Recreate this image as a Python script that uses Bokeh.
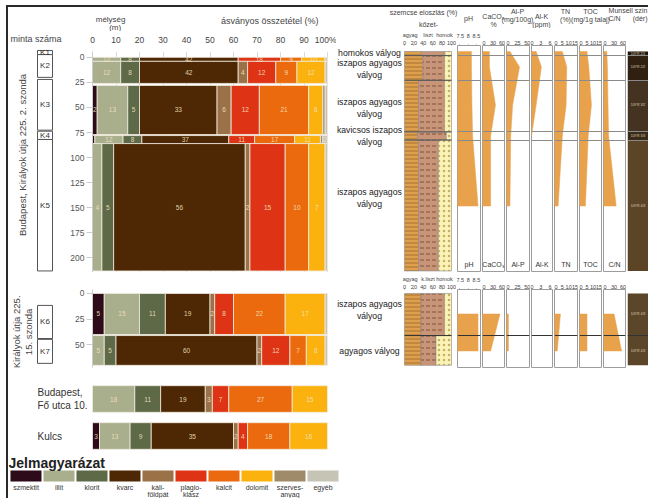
import math
from bokeh.plotting import figure
from bokeh.layouts import row, column
from bokeh.models import Range1d, FactorRange, FixedTicker, LinearAxis, ColumnDataSource, Spacer
from bokeh.core.properties import value
from bokeh.embed import file_html
from bokeh.resources import INLINE

FONT = "Liberation Sans"

# ---------------- data ----------------
MINERALS = ["szmektit", "illit", "klorit", "kvarc", "káliföldpát", "plagioklász",
            "kalcit", "dolomit", "szervesanyag", "egyéb"]
LEGEND_LABELS = ["szmektit", "illit", "klorit", "kvarc", "káli-\nföldpát", "plagio-\nklász",
                 "kalcit", "dolomit", "szerves-\nanyag", "egyéb"]
MINERAL_COLORS = ["#2d0b18", "#a9ae8c", "#5d6947", "#4e2804", "#9b7147", "#de3415",
                  "#ec6a0e", "#fbb20f", "#9f8a69", "#c6c5b5"]

# Budapest, Királyok útja 225. 2. szonda
S2_SAMPLES = ["K1", "K2", "K3", "K4", "K5"]
S2_TOP = [0, 4, 28, 78, 86]
S2_BOTTOM = [4, 26, 77, 86, 213]
S2_MID = [2, 15, 52, 82, 150]
K1 = [0, 12, 8, 42, 0, 18, 9, 10, 0, 1]
K2 = [0, 12, 8, 42, 4, 12, 9, 12, 0, 1]
K3 = [2, 13, 5, 33, 6, 12, 21, 6, 1, 1]
K4 = [1, 12, 8, 37, 0, 11, 17, 11, 1, 2]
K5 = [0, 4, 5, 56, 2, 15, 10, 7, 0, 1]
S2_SOIL = ["homokos vályog", "iszapos agyagos\nvályog", "iszapos agyagos\nvályog",
           "kavicsos iszapos\nvályog", "iszapos agyagos\nvályog"]
S2_SOIL_DEPTH = [1, 17, 55, 82, 142]
DEPTH_TICKS_S2 = [0, 25, 50, 75, 100, 125, 150, 175, 200]

# Királyok útja 225. 15. szonda
S15_SAMPLES = ["K6", "K7"]
S15_TOP = [0, 41]
S15_BOTTOM = [40, 70]
S15_MID = [20, 56]
K6 = [5, 15, 11, 19, 2, 8, 22, 17, 0, 1]
K7 = [0, 5, 5, 60, 2, 12, 7, 8, 0, 1]
S15_SOIL = ["iszapos agyagos\nvályog", "agyagos vályog"]
S15_SOIL_DEPTH = [16, 56]
DEPTH_TICKS_S15 = [0, 25, 50]

# other sites
SITES = ["Budapest", "Kulcs"]
SITE_LABELS = ["Budapest,\nFő utca 10.", "Kulcs"]
BUDAPEST_FO = [0, 18, 11, 19, 3, 7, 27, 15, 0, 0]
KULCS = [3, 13, 9, 35, 2, 4, 18, 16, 0, 0]

PCT_TICKS = [0, 10, 20, 30, 40, 50, 60, 70, 80, 90, 100]

# grain size distribution (%)
GRAIN_TICKS = [0, 20, 40, 60, 80, 100]
GRAIN_CLASS_POS = [12, 50, 85]
GRAIN_CLASSES_S2 = ["agyag", "liszt", "homok"]
GRAIN_CLASSES_S15 = ["agyag", "k.liszt", "homok"]
S2_CLAY = [36, 39, 30, 28, 30]
S2_SILT = [50, 46, 55, 61, 42]
S15_CLAY = [35, 35]
S15_SILT = [50, 32]

# soil chemistry profiles
PH_S2 = [8.2, 8.2, 8.23, 8.27, 8.6]
PH_S15 = [8.6, 8.6]
CACO3_S2 = [18, 18, 38, 22, 22]
CACO3_S15 = [53, 22]
ALP_S2 = [5, 30, 12, 7, 5]
ALP_S15 = [1, 1]
ALK_S2 = [1.5, 3.2, 1.5, 0, 0]
ALK_S15 = [0, 0]
TN_S2 = [5, 8.5, 8, 5, 1.7]
TN_S15 = [3.5, 1]
TOC_S2 = [5, 6.5, 8.7, 6, 3.7]
TOC_S15 = [5, 5]
CN_S2 = [6, 8, 10, 12, 37]
CN_S15 = [30, 55]

MUNSELL_S2 = ["10YR 2/1", "10YR 2/2", "10YR 3/2", "10YR 3/3", "10YR 4/3"]
MUNSELL_S2_COLORS = ["#21150b", "#2f2012", "#433320", "#3a2b19", "#5c4527"]
MUNSELL_S15 = ["10YR 4/3", "10YR 4/3"]
MUNSELL_S15_COLORS = ["#5b462a", "#5b462a"]

# column specs: name, fig width, x range, ticks, values (2. szonda), values (15. szonda)
COLUMNS = [
    ("pH", 25, 7.35, 8.75, [7.5, 8, 8.5], PH_S2, PH_S15),
    ("CaCO₃", 24, -5, 68, [0, 30, 60], CACO3_S2, CACO3_S15),
    ("Al-P", 25, -4, 56, [0, 25, 50], ALP_S2, ALP_S15),
    ("Al-K", 23, 0, 6.8, [0, 3, 6], ALK_S2, ALK_S15),
    ("TN", 25, -1.2, 17, [0, 5, 10, 15], TN_S2, TN_S15),
    ("TOC", 24, -1.2, 17, [0, 5, 10, 15], TOC_S2, TOC_S15),
    ("C/N", 24, -5, 68, [0, 30, 60], CN_S2, CN_S15),
]

HDR_TEXT = ["szemcse eloszlás (%)", "kőzet-", "pH", "CaCO₃\n%", "Al-P\n(mg/100g)", "Al-K\n(ppm)",
            "TN\n(%)", "TOC\n(mg/1g talaj)", "C/N", "Munsell szín\n(dér)"]
HDR_X = [423, 428, 468, 493, 517, 541, 565, 590, 614, 647]
HDR_Y = [12, 24, 18, 20, 15, 20, 15, 15, 18, 14]

PROFILE_COLOR = "#e9a24c"

# ---------------- helpers ----------------
def base_fig(width, height, x_range, y_range, top=0, bottom=0, left=0, right=0, xloc=None, yloc=None):
    p = figure(width=width, height=height, x_range=x_range, y_range=y_range,
               x_axis_location=xloc, y_axis_location=yloc, output_backend="svg",
               toolbar_location=None, min_border_top=top, min_border_bottom=bottom,
               min_border_left=left, min_border_right=right)
    p.outline_line_color = None
    p.xgrid.visible = False
    p.ygrid.visible = False
    return p


def stacked(rows):
    out = dict(left=[], right=[], color=[], label=[], xm=[], idx=[])
    for r, vals in enumerate(rows):
        acc = 0
        for v, c in zip(vals, MINERAL_COLORS):
            if v > 0:
                out["left"].append(acc)
                out["right"].append(acc + v)
                out["color"].append(c)
                out["label"].append(str(v) if v >= 2 else "")
                out["xm"].append(acc + v / 2)
                out["idx"].append(r)
            acc += v
    return out


def depth_bars(p, rows, tops, bottoms):
    d = stacked(rows)
    d["top"] = [tops[i] for i in d["idx"]]
    d["bottom"] = [bottoms[i] for i in d["idx"]]
    d["ym"] = [(tops[i] + bottoms[i]) / 2 for i in d["idx"]]
    src = ColumnDataSource(d)
    p.quad(left="left", right="right", top="top", bottom="bottom", fill_color="color",
           line_color="#f1ece1", line_width=0.8, source=src)
    p.text(x="xm", y="ym", text="label", source=src, text_font=value(FONT),
           text_font_size="6.5px", text_color="#f3e3c0", text_alpha=0.9,
           text_align="center", text_baseline="middle")


def style_depth_axis(p, ticks):
    ay = p.yaxis[0]
    ay.ticker = FixedTicker(ticks=ticks)
    ay.axis_line_color = "#cccccc"
    ay.major_tick_line_color = "#cccccc"
    ay.major_tick_out = 6
    ay.major_tick_in = 0
    ay.minor_tick_line_color = None
    ay.major_label_text_font = FONT
    ay.major_label_text_font_size = "8.5px"
    ay.major_label_text_color = "#555555"
    ay.major_label_standoff = 2


def label_column(width, height, yr, samples, tops, bottoms, title, title_y, title_size):
    p = base_fig(width, height, Range1d(0, width), yr)
    p.quad(left=29, right=44, top=tops, bottom=bottoms, fill_color="white",
           line_color="#555555", line_width=1)
    p.text(x=36.5, y=[(t + b) / 2 for t, b in zip(tops, bottoms)], text=samples,
           text_font=value(FONT), text_font_size="8px", text_color="#333333",
           text_align="center", text_baseline="middle")
    p.text(x=[14], y=[title_y], text=[title], angle=math.pi / 2, text_font=value(FONT),
           text_font_size=title_size, text_color="#444444", text_align="center",
           text_baseline="middle", text_line_height=1.15)
    return p


def top_axis(ax, ticks, standoff=0, overrides=None, tick_color="#999999"):
    ax.ticker = FixedTicker(ticks=ticks)
    if overrides:
        ax.major_label_overrides = overrides
    ax.axis_line_color = None
    ax.major_tick_line_color = tick_color
    ax.major_tick_out = 1
    ax.major_tick_in = 0
    ax.minor_tick_line_color = None
    ax.major_label_text_font = FONT
    ax.major_label_text_font_size = "5.5px"
    ax.major_label_text_color = "#444444"
    ax.major_label_standoff = standoff


def grain_fig(height, yr, top, bottom, tops, bottoms, clay, silt, soil, soil_d, bounds,
              bound_color, classes):
    p = base_fig(120, height, Range1d(-144.68, 108.5), yr, top=top, bottom=bottom,
                 right=1, xloc="above")
    top_axis(p.xaxis[0], GRAIN_TICKS)
    ax2 = LinearAxis()
    top_axis(ax2, GRAIN_CLASS_POS, overrides=dict(zip(GRAIN_CLASS_POS, classes)),
             tick_color=None)
    ax2.major_tick_out = 0
    p.add_layout(ax2, "above")
    edges = list(tops[1:]) + [bottoms[-1]]
    sand_l = [c + s for c, s in zip(clay, silt)]
    p.quad(left=0, right=clay, top=tops, bottom=edges, fill_color="#dfa04e",
           line_color="#8a8a8a", line_width=0.6, hatch_pattern="horizontal_line",
           hatch_color="#8b5a22", hatch_scale=4, hatch_weight=0.7)
    p.quad(left=clay, right=sand_l, top=tops, bottom=edges, fill_color="#c99579",
           line_color="#8a8a8a", line_width=0.6, hatch_pattern="horizontal_dash",
           hatch_color="#5a3322", hatch_scale=6, hatch_weight=0.7)
    p.quad(left=sand_l, right=100, top=tops, bottom=edges, fill_color="#fbf2b5",
           line_color="#8a8a8a", line_width=0.6, hatch_pattern="dot",
           hatch_color="#c8b060", hatch_scale=5, hatch_weight=0.8)
    p.segment(x0=0, x1=100, y0=bounds, y1=bounds, line_color=bound_color, line_width=1)
    p.text(x=-74.5, y=soil_d, text=soil, text_font=value(FONT), text_font_size="8.7px",
           text_color="#222222", text_align="center", text_baseline="middle",
           text_line_height=1.2)
    return p


def profile_fig(spec, height, yr, top, bottom, vals, mids, top_depth, bounds, bound_color,
                bottom_label=None, standoff=0):
    name, width, lo, hi, ticks, _, _ = spec
    p = base_fig(width, height, Range1d(lo, hi), yr, top=top, bottom=bottom, left=1,
                 right=1, xloc="above")
    p.outline_line_color = "#9c9c9c"
    top_axis(p.xaxis[0], ticks, standoff=standoff, overrides={t: ("%g" % t) for t in ticks})
    # the profile ends where the measured value drops to zero
    n = len(vals)
    while n > 1 and vals[n - 1] == 0 and vals[n - 2] == 0:
        n -= 1
    v = vals[:n]
    m = mids[:n]
    if any(x > 0 for x in v):
        if top_depth is not None:
            xs = [lo, v[0]] + list(v[1:]) + [lo]
            ys = [top_depth, top_depth] + list(m[1:]) + [m[-1]]
        else:
            xs = [lo] + list(v) + [lo]
            ys = [m[0]] + list(m) + [m[-1]]
        p.patch(xs, ys, fill_color=PROFILE_COLOR, line_color=PROFILE_COLOR, line_width=0.5)
    p.hspan(y=bounds, line_color=bound_color, line_width=1)
    if bottom_label:
        p.text(x=[(lo + hi) / 2], y=[207], text=[bottom_label], text_font=value(FONT),
               text_font_size="7px", text_color="#333333", text_align="center",
               text_baseline="middle")
    return p


def munsell_fig(height, yr, top, bottom, tops, bottoms, mids, names, colors, bounds, bound_color):
    p = base_fig(22, height, Range1d(0, 1), yr, top=top, bottom=bottom, left=1)
    edges = list(tops[1:]) + [bottoms[-1]]
    p.quad(left=0, right=1, top=tops, bottom=edges, fill_color=colors, line_color=None)
    p.hspan(y=bounds, line_color=bound_color, line_width=1)
    p.text(x=0.5, y=mids, text=names, text_font=value(FONT), text_font_size="3.5px",
           text_color="#d8ceb4", text_align="center", text_baseline="middle")
    return p


# ---------------- band 1 : 2. szonda ----------------
X_PCT = Range1d(0, 238 / 2.35)
YR2 = Range1d(214.5, -5.8)
YR15 = Range1d(72.1, -3.85)

HDR_L = base_fig(274, 24, Range1d(62, 336), Range1d(31, 7))
HDR_L.text(x=[100, 95], y=[19, 27], text=["mélység", "(m)"],
           text_font=value(FONT), text_font_size="8px", text_color="#444444",
           text_align="right", text_baseline="middle")
HDR_L.text(x=[266], y=[20], text=["ásványos összetétel (%)"],
           text_font=value(FONT), text_font_size="9px", text_color="#444444",
           text_align="center", text_baseline="middle")

A_left = label_column(54, 265, Range1d(214.5, -41.5), S2_SAMPLES, S2_TOP, S2_BOTTOM,
                      "Budapest, Királyok útja 225. 2. szonda", 101, "9.5px")
A_left.text(x=[53], y=[-10.6], text=["minta száma"], text_font=value(FONT),
            text_font_size="9px", text_color="#444444", text_align="right",
            text_baseline="middle")

A = base_fig(274, 241, X_PCT, YR2, top=13, bottom=0, left=30, right=6, xloc="above", yloc="left")
A.xgrid.visible = True
A.xgrid.ticker = FixedTicker(ticks=PCT_TICKS)
A.xgrid.grid_line_color = "#dadada"
ax = A.xaxis[0]
ax.ticker = FixedTicker(ticks=PCT_TICKS)
ax.major_label_overrides = {100: "100%"}
ax.axis_line_color = None
ax.major_tick_line_color = None
ax.minor_tick_line_color = None
ax.major_label_text_font = FONT
ax.major_label_text_font_size = "8.5px"
ax.major_label_text_color = "#444444"
ax.major_label_standoff = 1
style_depth_axis(A, DEPTH_TICKS_S2)
depth_bars(A, [K1, K2, K3, K4, K5], S2_TOP, S2_BOTTOM)

HDR = base_fig(312, 21, Range1d(336, 648), Range1d(28, 7))
HDR.text(x=HDR_X, y=HDR_Y, text=HDR_TEXT,
         text_align=["center"] * 9 + ["right"], text_font=value(FONT), text_font_size="7px",
         text_color="#444444", text_baseline="middle", text_line_height=1.15)

B1 = S2_TOP[1:]
SG1 = grain_fig(244, YR2, 16, 0, S2_TOP, S2_BOTTOM, S2_CLAY, S2_SILT, S2_SOIL, S2_SOIL_DEPTH,
                B1, "#555555", GRAIN_CLASSES_S2)
cols1 = [profile_fig(c, 244, YR2, 16, 0, c[5], S2_MID, 0, B1, "#8a8a8a", bottom_label=c[0],
                     standoff=(7 if c[0] == "pH" else 0)) for c in COLUMNS]
MUN1 = munsell_fig(244, YR2, 16, 0, S2_TOP, S2_BOTTOM, S2_MID, MUNSELL_S2, MUNSELL_S2_COLORS,
                   B1, "#8a8a8a")

band1 = row(A_left, column(HDR_L, A), column(HDR, row(SG1, *cols1, MUN1)))

# ---------------- band 2 : 15. szonda ----------------
B_left = label_column(54, 98, Range1d(75, -19.23), S15_SAMPLES, S15_TOP, S15_BOTTOM,
                      "Királyok útja 225.\n15. szonda", 32, "9.5px")
B = base_fig(274, 98, X_PCT, YR15, top=16, bottom=3, left=30, right=6, yloc="left")
style_depth_axis(B, DEPTH_TICKS_S15)
depth_bars(B, [K6, K7], S15_TOP, S15_BOTTOM)

B2 = [S15_TOP[1]]
SG2 = grain_fig(98, YR15, 16, 3, S15_TOP, S15_BOTTOM, S15_CLAY, S15_SILT, S15_SOIL,
                S15_SOIL_DEPTH, B2, "#333333", GRAIN_CLASSES_S15)
cols2 = [profile_fig(c, 98, YR15, 16, 3, c[6], S15_MID, None, B2, "#333333",
                     standoff=(7 if c[0] == "pH" else 0)) for c in COLUMNS]
MUN2 = munsell_fig(98, YR15, 16, 3, S15_TOP, S15_BOTTOM, S15_MID, MUNSELL_S15,
                   MUNSELL_S15_COLORS, B2, "#333333")
band2 = row(B_left, B, SG2, *cols2, MUN2)

# ---------------- band 3 : other sites ----------------
C = base_fig(332, 84, Range1d(-35.74, -35.74 + 332 / 2.35), FactorRange(factors=SITES[::-1]),
             top=10, bottom=0)
dC = stacked([BUDAPEST_FO, KULCS])
dC["site"] = [SITES[i] for i in dC["idx"]]
srcC = ColumnDataSource(dC)
C.hbar(y="site", left="left", right="right", height=0.72, fill_color="color",
       line_color="#f1ece1", line_width=0.8, source=srcC)
C.text(x="xm", y="site", text="label", source=srcC, text_font=value(FONT),
       text_font_size="6.5px", text_color="#f3e3c0", text_alpha=0.9,
       text_align="center", text_baseline="middle")
C.text(x=-23.4, y=SITES, text=SITE_LABELS, text_font=value(FONT), text_font_size="10px",
       text_color="#333333", text_align="left", text_baseline="middle", text_line_height=1.2)

# ---------------- band 4 : legend ----------------
L = base_fig(332, 44, Range1d(-0.53, -0.53 + 332 / 33), Range1d(44, 0))
idx = list(range(len(MINERALS)))
L.vbar(x=idx, width=0.94, top=16, bottom=27, fill_color=MINERAL_COLORS, line_color=None)
L.text(x=idx, y=29, text=LEGEND_LABELS, text_font=value(FONT), text_font_size="7px",
       text_color="#333333", text_align="center", text_baseline="top", text_line_height=1.0)
L.text(x=[-0.53], y=[8], text=["Jelmagyarázat"], text_font=value(FONT),
       text_font_size="14px", text_font_style="bold", text_color="#222222",
       text_align="left", text_baseline="middle")

content = column(band1, band2, C, L,
                 styles={"border-left": "2px solid #2a2a2a", "border-top": "2px solid #2a2a2a"})
root = column(Spacer(height=5), row(Spacer(width=6), content))

open("out.html", "w").write(file_html(root, INLINE, title="chart"))
